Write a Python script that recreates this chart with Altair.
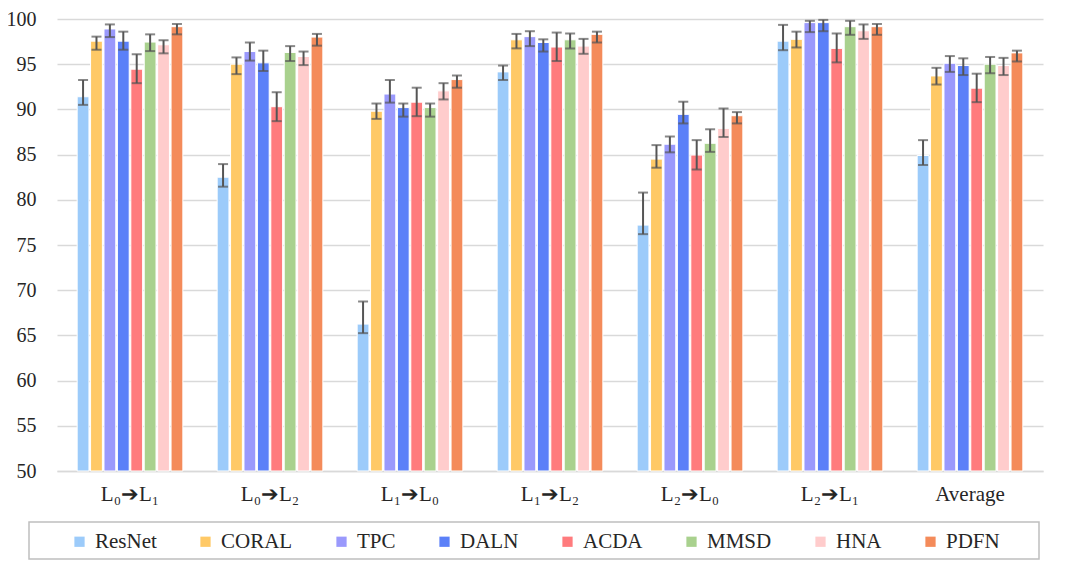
import altair as alt
import pandas as pd

categories = ["L₀➔L₁", "L₀➔L₂", "L₁➔L₀", "L₁➔L₂", "L₂➔L₀", "L₂➔L₁", "Average"]
methods = ["ResNet", "CORAL", "TPC", "DALN", "ACDA", "MMSD", "HNA", "PDFN"]
colors = ["#9CCBFA", "#FFC966", "#9A99FC", "#5B80F8", "#FF7B7D", "#A9D18E", "#FFCCCC", "#F48B5A"]

resnet = [91.4, 82.5, 66.25, 94.15, 77.2, 97.55, 84.9]
resnet_lo = [90.5, 81.45, 65.25, 93.25, 76.2, 96.55, 83.85]
resnet_hi = [93.25, 83.95, 68.75, 94.85, 80.8, 99.35, 86.6]
coral = [97.55, 95.0, 89.8, 97.7, 84.5, 97.75, 93.7]
coral_lo = [96.6, 93.9, 88.95, 96.75, 83.55, 96.85, 92.75]
coral_hi = [98.05, 95.75, 90.65, 98.35, 86.05, 98.6, 94.6]
tpc = [98.9, 96.4, 91.7, 98.05, 86.15, 99.6, 95.1]
tpc_lo = [98.0, 95.4, 90.75, 97.0, 85.25, 98.55, 94.15]
tpc_hi = [99.4, 97.4, 93.25, 98.65, 87.0, 99.8, 95.9]
daln = [97.55, 95.15, 90.2, 97.4, 89.45, 99.6, 94.85]
daln_lo = [96.6, 94.25, 89.2, 96.4, 88.45, 98.65, 93.8]
daln_hi = [98.6, 96.5, 90.65, 97.75, 90.85, 99.9, 95.65]
acda = [94.45, 90.3, 90.8, 96.9, 84.95, 96.75, 92.35]
acda_lo = [92.9, 88.7, 89.25, 95.35, 83.35, 95.2, 90.8]
acda_hi = [96.1, 91.9, 92.4, 98.5, 86.6, 98.4, 93.95]
mmsd = [97.45, 96.3, 90.2, 97.7, 86.25, 99.15, 95.0]
mmsd_lo = [96.45, 95.35, 89.2, 96.75, 85.3, 98.25, 94.0]
mmsd_hi = [98.3, 97.0, 90.65, 98.4, 87.8, 99.8, 95.8]
hna = [97.15, 95.85, 92.05, 97.0, 87.9, 98.7, 94.85]
hna_lo = [96.2, 94.9, 91.1, 96.15, 86.95, 97.8, 93.8]
hna_hi = [97.65, 96.4, 92.9, 97.8, 90.1, 99.4, 95.7]
pdfn = [99.15, 98.0, 93.3, 98.3, 89.3, 99.15, 96.25]
pdfn_lo = [98.3, 97.05, 92.4, 97.4, 88.45, 98.25, 95.3]
pdfn_hi = [99.45, 98.35, 93.75, 98.6, 89.7, 99.45, 96.5]

y_ticks = [50, 55, 60, 65, 70, 75, 80, 85, 90, 95, 100]

series = {
    "ResNet": (resnet, resnet_lo, resnet_hi),
    "CORAL": (coral, coral_lo, coral_hi),
    "TPC": (tpc, tpc_lo, tpc_hi),
    "DALN": (daln, daln_lo, daln_hi),
    "ACDA": (acda, acda_lo, acda_hi),
    "MMSD": (mmsd, mmsd_lo, mmsd_hi),
    "HNA": (hna, hna_lo, hna_hi),
    "PDFN": (pdfn, pdfn_lo, pdfn_hi),
}

rows = []
for m in methods:
    v, lo, hi = series[m]
    for i, c in enumerate(categories):
        rows.append({"cat": c, "method": m, "value": v[i], "lo": lo[i], "hi": hi[i]})
df = pd.DataFrame(rows)

FONT = "Times New Roman, Liberation Serif, serif"
TXT = "#262626"
ERR = "#555555"

x_enc = alt.X("cat:N", sort=categories,
              scale=alt.Scale(paddingInner=0.245, paddingOuter=0.144),
              axis=alt.Axis(title=None, labelAngle=0, ticks=False, domainColor="#d9d9d9",
                            domainWidth=1.5, labelPadding=12, labelFont=FONT,
                            labelFontSize=21, labelColor=TXT))
xo_enc = alt.XOffset("method:N", sort=methods, scale=alt.Scale(paddingInner=0.12, paddingOuter=0.0))
y_scale = alt.Scale(domain=[50, 100], nice=False, zero=False)
y_axis = alt.Axis(title=None, values=y_ticks, grid=True, gridColor="#d9d9d9", gridWidth=1.5,
                  domain=False, ticks=False, labelPadding=21, labelFont=FONT,
                  labelFontSize=20, labelColor=TXT)

base = alt.Chart(df)

bars = base.mark_bar(stroke="white", strokeWidth=1).encode(
    x=x_enc,
    xOffset=xo_enc,
    y=alt.Y("value:Q", scale=y_scale, axis=y_axis),
    y2=alt.datum(50),
    color=alt.Color("method:N", sort=methods,
                    scale=alt.Scale(domain=methods, range=colors),
                    legend=alt.Legend(title=None, orient="none", legendX=12, legendY=512,
                                      direction="horizontal", columns=8,
                                      symbolType="square", symbolSize=105,
                                      symbolStrokeWidth=0, labelFont=FONT,
                                      labelFontSize=21, labelColor=TXT,
                                      labelOffset=5, columnPadding=38, padding=0)),
)

err = base.mark_rule(color=ERR, strokeWidth=2).encode(
    x=alt.X("cat:N", sort=categories), xOffset=alt.XOffset("method:N", sort=methods),
    y=alt.Y("lo:Q"), y2="hi:Q",
)
cap_lo = base.mark_tick(color=ERR, thickness=2, size=10).encode(
    x=alt.X("cat:N", sort=categories), xOffset=alt.XOffset("method:N", sort=methods),
    y=alt.Y("lo:Q"),
)
cap_hi = base.mark_tick(color=ERR, thickness=2, size=10).encode(
    x=alt.X("cat:N", sort=categories), xOffset=alt.XOffset("method:N", sort=methods),
    y=alt.Y("hi:Q"),
)

frame = alt.Chart(pd.DataFrame({"a": [0]})).mark_rect(
    fill="transparent", stroke="#bfbfbf", strokeWidth=1.5
).encode(x=alt.value(-28), x2=alt.value(982), y=alt.value(503), y2=alt.value(540))

chart = alt.layer(bars, err, cap_lo, cap_hi, frame).properties(
    width=986, height=452,
    autosize=alt.AutoSizeParams(type="none"),
    padding={"left": 49, "top": 11, "right": 25, "bottom": 93},
).configure(font=FONT).configure_view(stroke=None)

chart.save("out.html", embed_options={"renderer": "svg", "actions": False})
